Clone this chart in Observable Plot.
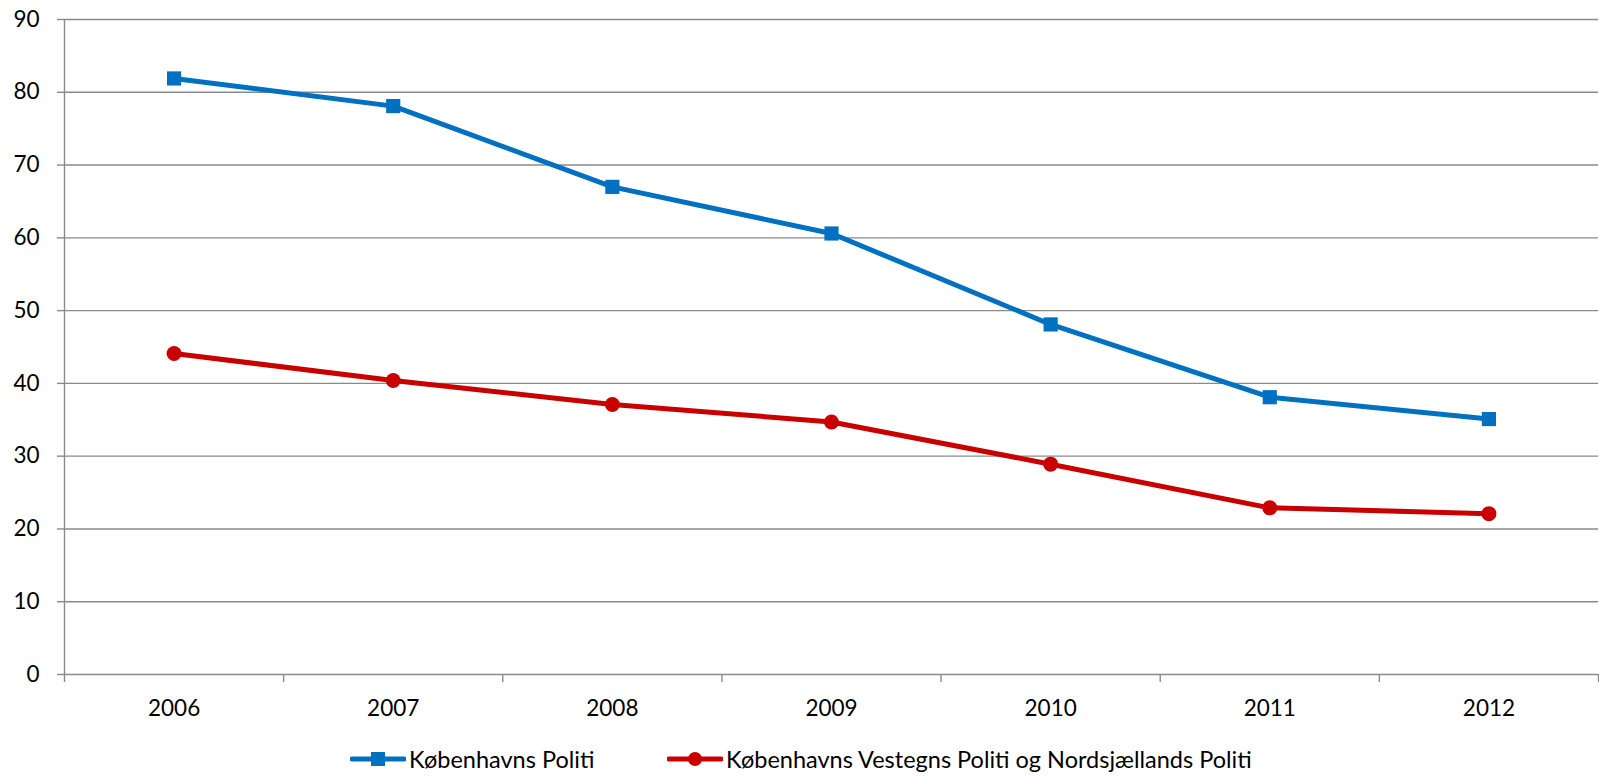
<!DOCTYPE html>
<html>
<head>
<meta charset="utf-8">
<script src="https://cdn.jsdelivr.net/npm/d3@7"></script>
<script src="https://cdn.jsdelivr.net/npm/@observablehq/plot@0.6"></script>
<style>
  html, body { margin: 0; padding: 0; background: #fff; }
  #chart svg { display: block; }
  #legend { position: relative; height: 38px; font-family: Lato, sans-serif; font-size: 23.5px; color: #000; }
  .item { position: absolute; top: 0; height: 38px; display: flex; align-items: center; }
  .item svg { display: block; margin-right: 3px; }
</style>
</head>
<body>
<div id="chart"></div>
<div id="legend"></div>
<script>
const years = [2006, 2007, 2008, 2009, 2010, 2011, 2012];
const seriesNames = ["Københavns Politi", "Københavns Vestegns Politi og Nordsjællands Politi"];
const kbhValues = [81.9, 78.1, 67.0, 60.6, 48.1, 38.1, 35.1];
const vestValues = [44.1, 40.4, 37.1, 34.7, 28.9, 22.9, 22.1];
const yTicks = [0, 10, 20, 30, 40, 50, 60, 70, 80, 90];
const colors = ["#0070C0", "#C80000"];

const boundaries = years.map(y => y - 0.5).concat([years[years.length - 1] + 0.5]);
const kbh = years.map((y, i) => ({year: y, value: kbhValues[i]}));
const vest = years.map((y, i) => ({year: y, value: vestValues[i]}));

const W = 1599, H = 740;
const gridColor = "#8a8a8a";

const chart = Plot.plot({
  width: W,
  height: H,
  marginLeft: 64,
  marginRight: 1,
  marginTop: 19,
  marginBottom: 66,
  style: {fontFamily: "Lato, sans-serif", fontSize: "22.5px", color: "#000", background: "#fff"},
  x: {type: "linear", domain: [boundaries[0], boundaries[boundaries.length - 1]], axis: null, label: null},
  y: {domain: [0, 90], axis: null, label: null},
  marks: [
    Plot.ruleY(yTicks, {y: d => d, stroke: gridColor, strokeWidth: 1.4}),
    Plot.axisY(yTicks, {label: null, tickSize: 7, tickPadding: 18, stroke: gridColor, strokeWidth: 1.4, tickFormat: d => String(d), fill: "#000"}),
    Plot.ruleX([boundaries[0]], {stroke: gridColor, strokeWidth: 1.4}),
    Plot.axisX(boundaries, {label: null, tickSize: 8, tickFormat: () => "", stroke: gridColor, strokeWidth: 1.4}),
    Plot.axisX(years, {label: null, tickSize: 0, tickPadding: 26, tickFormat: d => String(d), fill: "#000"}),
    Plot.line(kbh, {x: "year", y: "value", stroke: colors[0], strokeWidth: 5}),
    Plot.line(vest, {x: "year", y: "value", stroke: colors[1], strokeWidth: 5}),
    Plot.dot(kbh, {x: "year", y: "value", symbol: "square", r: 8, fill: colors[0], stroke: "none"}),
    Plot.dot(vest, {x: "year", y: "value", symbol: "circle", r: 7.5, fill: colors[1], stroke: "none"})
  ]
});
document.getElementById("chart").appendChild(chart);

// Legend
const legend = document.getElementById("legend");
const legendX = [350, 667];
seriesNames.forEach((name, i) => {
  const item = document.createElement("div");
  item.className = "item";
  item.style.left = legendX[i] + "px";
  const sw = d3.create("svg").attr("width", 56).attr("height", 20);
  sw.append("line").attr("x1", 2).attr("x2", 54).attr("y1", 10).attr("y2", 10)
    .attr("stroke", colors[i]).attr("stroke-width", 5).attr("stroke-linecap", "round");
  if (i === 0) {
    sw.append("rect").attr("x", 21).attr("y", 3).attr("width", 14).attr("height", 14).attr("fill", colors[i]);
  } else {
    sw.append("circle").attr("cx", 28).attr("cy", 10).attr("r", 7).attr("fill", colors[i]);
  }
  item.appendChild(sw.node());
  const t = document.createElement("span");
  t.textContent = name;
  item.appendChild(t);
  legend.appendChild(item);
});
</script>
</body>
</html>
